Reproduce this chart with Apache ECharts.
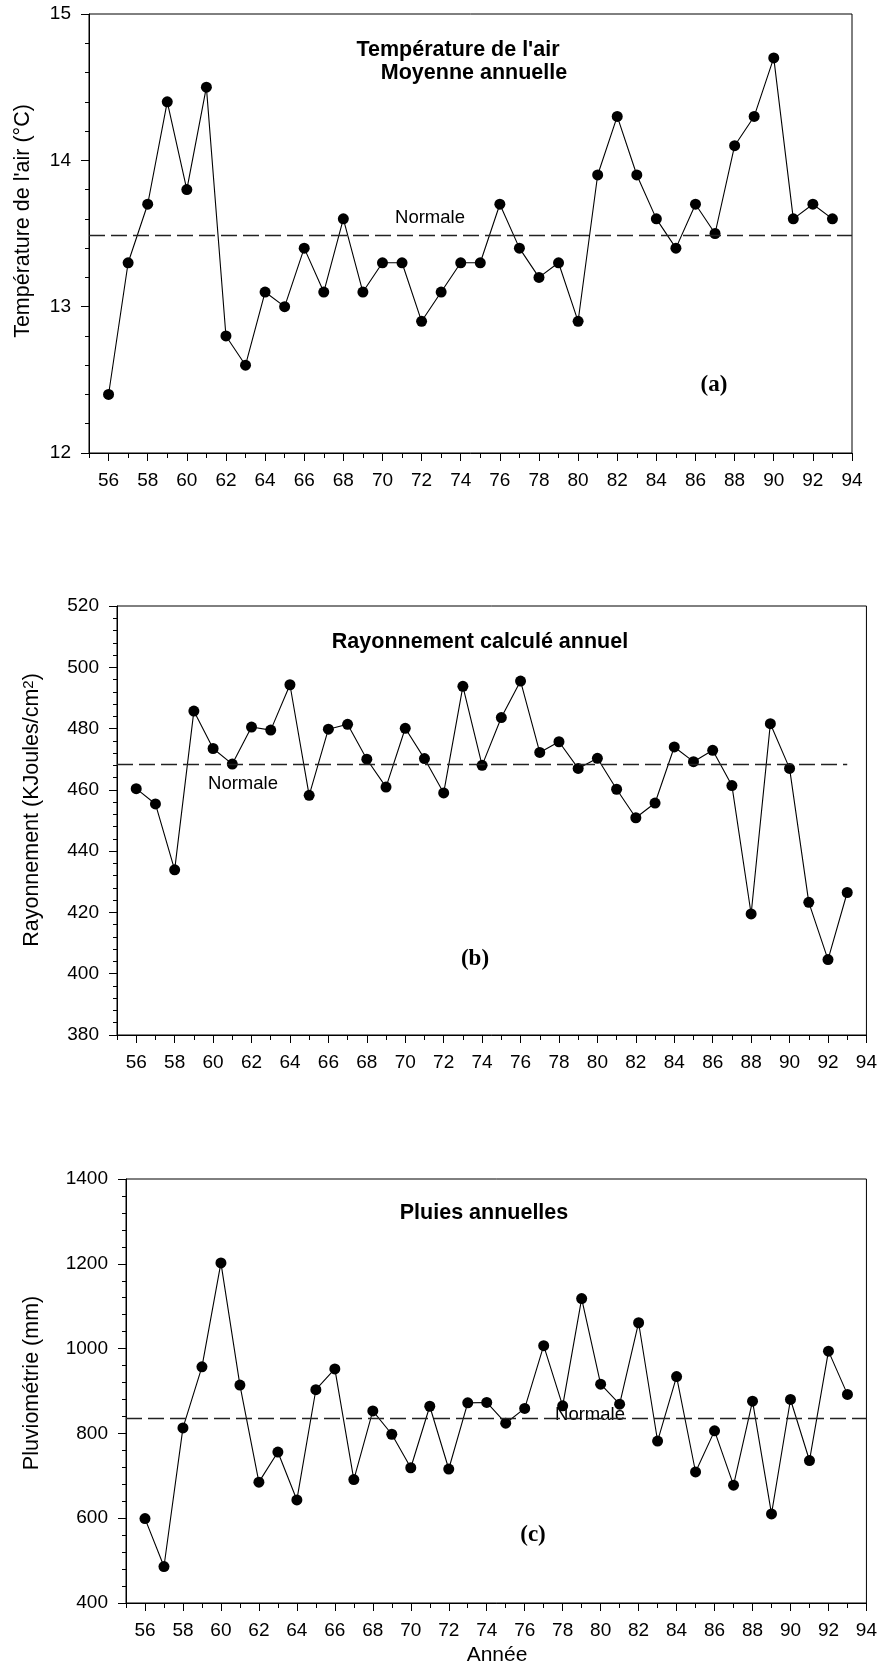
<!DOCTYPE html>
<html>
<head>
<meta charset="utf-8">
<script src="https://cdn.jsdelivr.net/npm/echarts@6/dist/echarts.min.js"></script>
<style>
html,body{margin:0;padding:0;background:#fff;}
#chart{width:880px;height:1677px;}
</style>
</head>
<body>
<div id="chart"></div>
<script>
// ---- data ----
const years = [56,57,58,59,60,61,62,63,64,65,66,67,68,69,70,71,72,73,74,75,76,77,78,79,80,81,82,83,84,85,86,87,88,89,90,91,92,93];
const xCategories = ['55','56','57','58','59','60','61','62','63','64','65','66','67','68','69','70','71','72','73','74','75','76','77','78','79','80','81','82','83','84','85','86','87','88','89','90','91','92','93','94'];
const temperature = [12.4,13.3,13.7,14.4,13.8,14.5,12.8,12.6,13.1,13.0,13.4,13.1,13.6,13.1,13.3,13.3,12.9,13.1,13.3,13.3,13.7,13.4,13.2,13.3,12.9,13.9,14.3,13.9,13.6,13.4,13.7,13.5,14.1,14.3,14.7,13.6,13.7,13.6];
const radiation = [460.4,455.4,433.9,485.7,473.5,468.4,480.5,479.5,494.3,458.2,479.8,481.4,470.0,460.9,480.1,470.2,459.0,493.8,468.0,483.6,495.5,472.2,475.7,467.0,470.3,460.2,450.9,455.7,474.0,469.2,472.9,461.4,419.5,481.6,467.0,423.3,404.6,426.5];
const rainfall = [599,486,813,957,1202,914,685,756,643,903,952,691,853,798,719,864,716,872,873,824,859,1007,865,1118,916,869,1061,782,934,709,806,678,876,610,880,736,994,892];
const tempNormal = 13.49;
const radNormal = 468.4;
const rainNormal = 834.6;
const tempTicks = {min: 12, max: 15, interval: 1};
const radTicks = {min: 380, max: 520, interval: 20};
const rainTicks = {min: 400, max: 1400, interval: 200};

// ---- layout ----
const FONT = '"Liberation Sans", Arial, sans-serif';
const grids = [
  {left: 89, top: 14, width: 763, height: 439},
  {left: 117, top: 606, width: 751, height: 429},
  {left: 126, top: 1179, width: 742, height: 424}
];

function xAxes(gi) {
  return [
    {
      type: 'category', gridIndex: gi, data: xCategories, boundaryGap: false, position: 'bottom',
      axisLine: {lineStyle: {color: '#000', width: 1}},
      axisTick: {length: 8, interval: (i, v) => (+v) % 2 === 0, lineStyle: {color: '#000'}},
      axisLabel: {interval: (i, v) => (+v) % 2 === 0, color: '#000', fontSize: 19, fontFamily: FONT, margin: 18},
      splitLine: {show: false}
    },
    {
      type: 'category', gridIndex: gi, data: xCategories, boundaryGap: false, position: 'bottom',
      axisLine: {show: false},
      axisTick: {length: 5, interval: (i, v) => (+v) % 2 !== 0, lineStyle: {color: '#000'}},
      axisLabel: {show: false},
      splitLine: {show: false}
    }
  ];
}
function yAxis(gi, t) {
  return {
    type: 'value', gridIndex: gi, min: t.min, max: t.max, interval: t.interval,
    axisLine: {show: true, lineStyle: {color: '#000', width: 1}},
    axisTick: {show: true, length: 8, lineStyle: {color: '#000'}},
    minorTick: {show: true, splitNumber: 5, length: 4, lineStyle: {color: '#000'}},
    axisLabel: {color: '#000', fontSize: 19, fontFamily: FONT, margin: 18, formatter: v => String(v)},
    splitLine: {show: false}
  };
}
function series(gi, vals, normal, lineEnd) {
  return {
    type: 'line', xAxisIndex: gi * 2, yAxisIndex: gi,
    data: years.map((y, i) => [String(y), vals[i]]),
    symbol: 'circle', symbolSize: 11, showSymbol: true,
    itemStyle: {color: '#000'},
    lineStyle: {color: '#000', width: 1.1},
    animation: false,
    markLine: {
      silent: true, symbol: 'none', animation: false,
      label: {show: false},
      lineStyle: {color: '#222', width: 1.3, type: [16, 6]},
      data: [[{coord: ['55', normal]}, {coord: [lineEnd, normal]}]]
    }
  };
}
function txt(x, y, text, opts) {
  return {
    type: 'text', x: x, y: y, silent: true,
    style: Object.assign({text: text, fill: '#000', fontFamily: FONT, fontSize: 18.5, align: 'center', verticalAlign: 'middle'}, opts || {})
  };
}
const SERIF = '"Liberation Serif", "Times New Roman", serif';

const option = {
  backgroundColor: '#fff',
  animation: false,
  grid: grids.map(g => Object.assign({show: true, borderColor: '#000', borderWidth: 1, backgroundColor: 'transparent', containLabel: false}, g)),
  xAxis: [].concat(xAxes(0), xAxes(1), xAxes(2)),
  yAxis: [yAxis(0, tempTicks), yAxis(1, radTicks), yAxis(2, rainTicks)],
  series: [
    series(0, temperature, tempNormal, '94'),
    series(1, radiation, radNormal, '93'),
    series(2, rainfall, rainNormal, '94')
  ],
  graphic: [
    txt(458, 50, "Température de l'air", {fontSize: 21.5, fontWeight: 'bold'}),
    txt(474, 73, 'Moyenne annuelle', {fontSize: 21.5, fontWeight: 'bold'}),
    txt(430, 218, 'Normale'),
    txt(714, 385, '(a)', {fontSize: 23, fontWeight: 'bold', fontFamily: SERIF}),
    Object.assign(txt(23, 221, "Température de l'air (°C)", {fontSize: 21.5}), {rotation: Math.PI / 2}),

    txt(480, 642, 'Rayonnement calculé annuel', {fontSize: 21.5, fontWeight: 'bold'}),
    txt(243, 784, 'Normale'),
    txt(475, 959, '(b)', {fontSize: 23, fontWeight: 'bold', fontFamily: SERIF}),
    Object.assign(txt(32, 810, 'Rayonnement (KJoules/cm{sup|2})', {
      fontSize: 21.5,
      rich: {sup: {fontSize: 15, fontFamily: FONT, verticalAlign: 'top', fill: '#000'}}
    }), {rotation: Math.PI / 2}),

    txt(484, 1213, 'Pluies annuelles', {fontSize: 21.5, fontWeight: 'bold'}),
    txt(590, 1415, 'Normale'),
    txt(533, 1535, '(c)', {fontSize: 23, fontWeight: 'bold', fontFamily: SERIF}),
    Object.assign(txt(32, 1383, 'Pluviométrie (mm)', {fontSize: 21.5}), {rotation: Math.PI / 2}),
    txt(497, 1655, 'Année', {fontSize: 21})
  ]
};

const chart = echarts.init(document.getElementById('chart'), null, {renderer: 'canvas'});
chart.setOption(option);
</script>
</body>
</html>
